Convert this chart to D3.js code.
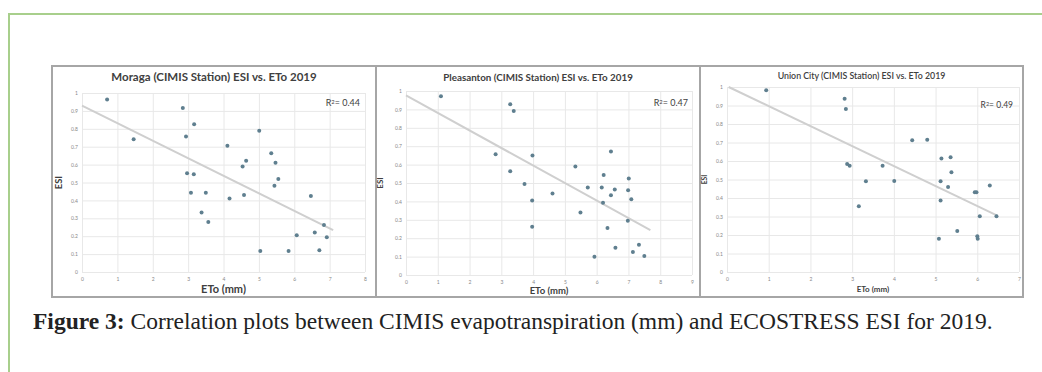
<!DOCTYPE html>
<html>
<head>
<meta charset="utf-8">
<script src="https://cdn.jsdelivr.net/npm/d3@7"></script>
<style>
  body { margin: 0; background: #fff; }
  svg { display: block; }
</style>
</head>
<body>
<div id="figure"></div>
<script>
// values
const MORAGA_ETO = [0.71, 1.46, 2.85, 3.17, 2.94, 2.97, 3.16, 3.08, 3.5, 3.38, 3.57, 4.11, 4.17, 4.54,
                    4.64, 4.58, 5.01, 5.04, 5.35, 5.47, 5.55, 5.44, 5.84, 6.07, 6.47, 6.58, 6.71, 6.84, 6.92];
const MORAGA_ESI = [0.963, 0.742, 0.916, 0.826, 0.757, 0.551, 0.546, 0.443, 0.443, 0.333, 0.279, 0.705, 0.411, 0.589,
                    0.622, 0.43, 0.789, 0.118, 0.664, 0.611, 0.52, 0.482, 0.118, 0.206, 0.424, 0.221, 0.121, 0.262, 0.194];
const MORAGA_FIT = [[0, 0.93], [7.1, 0.234]];

const PLEASANTON_ETO = [1.1, 3.28, 3.39, 2.82, 3.98, 3.28, 3.73, 3.97, 3.97, 4.61, 5.33, 5.49, 5.72, 5.93, 6.16,
                        6.2, 6.22, 6.34, 6.45, 6.45, 6.57, 6.59, 6.99, 7.01, 6.98, 7.09, 7.14, 7.33, 7.5];
const PLEASANTON_ESI = [0.971, 0.928, 0.891, 0.656, 0.649, 0.564, 0.495, 0.405, 0.262, 0.443, 0.59, 0.34, 0.476, 0.099, 0.476,
                        0.392, 0.544, 0.255, 0.671, 0.434, 0.465, 0.148, 0.461, 0.524, 0.295, 0.412, 0.125, 0.165, 0.103];
const PLEASANTON_FIT = [[0, 0.976], [7.69, 0.244]];

const UNION_ETO = [0.94, 2.82, 2.85, 2.88, 2.94, 3.33, 3.16, 3.73, 4.01, 4.44, 4.8, 5.14, 5.36, 5.38,
                   5.12, 5.3, 5.12, 5.08, 5.52, 5.94, 5.98, 6.06, 6.0, 6.01, 6.3, 6.46];
const UNION_ESI = [0.982, 0.937, 0.881, 0.584, 0.575, 0.49, 0.355, 0.575, 0.492, 0.712, 0.715, 0.613, 0.62, 0.539,
                   0.49, 0.459, 0.387, 0.18, 0.222, 0.431, 0.431, 0.301, 0.193, 0.18, 0.468, 0.301];
const UNION_FIT = [[0.04, 1.0], [6.48, 0.305]];

const TITLES = ["Moraga (CIMIS Station) ESI vs. ETo 2019",
                "Pleasanton (CIMIS Station) ESI vs. ETo 2019",
                "Union City (CIMIS Station) ESI vs. ETo 2019"];
const R2_LABELS = ["0.44", "0.47", "0.49"];
const X_MAX = [8, 9, 7];
const Y_TICKS = [0, 0.1, 0.2, 0.3, 0.4, 0.5, 0.6, 0.7, 0.8, 0.9, 1];
const CAPTION_BOLD = "Figure 3:";
const CAPTION = " Correlation plots between CIMIS evapotranspiration (mm) and ECOSTRESS ESI for 2019.";

const DOT_COLOUR = "#5f7f8f";
const FIT_COLOUR = "#cfcfcf";
const GRID_COLOUR = "#e8e8e8";

var W = 1042, H = 372;
var svg = d3.select("#figure").append("svg")
    .attr("width", W)
    .attr("height", H);

// green frame of the page
svg.append("path")
    .attr("d", "M9,372 V14 H1042")
    .attr("fill", "none")
    .attr("stroke", "#a8cf8c")
    .attr("stroke-width", 2);

// outer box of the figure and the two dividers
svg.append("rect")
    .attr("x", 52).attr("y", 66)
    .attr("width", 971).attr("height", 231)
    .attr("fill", "none")
    .attr("stroke", "#a6a6a6")
    .attr("stroke-width", 2);
[376, 700].forEach(function(x) {
  svg.append("line")
      .attr("x1", x).attr("x2", x)
      .attr("y1", 66).attr("y2", 297)
      .attr("stroke", "#a6a6a6")
      .attr("stroke-width", 2);
});

var panels = [
  {eto: MORAGA_ETO, esi: MORAGA_ESI, fit: MORAGA_FIT, box: [52, 376],
   xr: [82, 365], yr: [272, 93], titleY: 81, titleSize: 11.5, titleWeight: "bold",
   labelSize: 11, r2Size: 9, r2X: 360, r2Y: 106, yLabelX: 62, xLabelY: 293},
  {eto: PLEASANTON_ETO, esi: PLEASANTON_ESI, fit: PLEASANTON_FIT, box: [376, 700],
   xr: [406, 692], yr: [275, 91], titleY: 81, titleSize: 9.8, titleWeight: "bold",
   labelSize: 9.5, r2Size: 9, r2X: 688, r2Y: 106, yLabelX: 383, xLabelY: 294},
  {eto: UNION_ETO, esi: UNION_ESI, fit: UNION_FIT, box: [700, 1023],
   xr: [727, 1019], yr: [272, 87], titleY: 79, titleSize: 8.8, titleWeight: "600",
   labelSize: 8, r2Size: 8.5, r2X: 1013, r2Y: 108, yLabelX: 707, xLabelY: 292}
];

panels.forEach(function(p, i) {
  var g = svg.append("g");
  var x = d3.scaleLinear().domain([0, X_MAX[i]]).range(p.xr);
  var y = d3.scaleLinear().domain([0, 1]).range(p.yr);

  // grid
  g.append("g")
    .attr("transform", "translate(0," + p.yr[0] + ")")
    .call(d3.axisBottom(x).ticks(X_MAX[i]).tickSize(-(p.yr[0] - p.yr[1])).tickFormat(d3.format("d")))
    .call(function(a) {
      a.select(".domain").remove();
      a.selectAll("line").attr("stroke", GRID_COLOUR);
      a.selectAll("text").attr("fill", "#888").attr("font-size", 5).attr("dy", "1.1em")
        .attr("font-family", "Lato");
    });
  g.append("g")
    .attr("transform", "translate(" + p.xr[0] + ",0)")
    .call(d3.axisLeft(y).tickValues(Y_TICKS).tickSize(-(p.xr[1] - p.xr[0])).tickFormat(d3.format("")))
    .call(function(a) {
      a.select(".domain").remove();
      a.selectAll("line").attr("stroke", GRID_COLOUR);
      a.selectAll("text").attr("fill", "#888").attr("font-size", 5).attr("x", -4)
        .attr("font-family", "Lato");
    });

  // trend line
  g.append("line")
    .attr("x1", x(p.fit[0][0])).attr("y1", y(p.fit[0][1]))
    .attr("x2", x(p.fit[1][0])).attr("y2", y(p.fit[1][1]))
    .attr("stroke", FIT_COLOUR)
    .attr("stroke-width", 2);

  // dots
  g.append("g")
    .selectAll("circle")
    .data(d3.zip(p.eto, p.esi))
    .enter()
    .append("circle")
      .attr("cx", function(d) { return x(d[0]); })
      .attr("cy", function(d) { return y(d[1]); })
      .attr("r", 2)
      .style("fill", DOT_COLOUR);

  g.append("text")
    .attr("x", (p.box[0] + p.box[1]) / 2).attr("y", p.titleY)
    .attr("text-anchor", "middle")
    .attr("font-family", "Lato")
    .attr("font-weight", p.titleWeight)
    .attr("font-size", p.titleSize)
    .attr("fill", "#404040")
    .text(TITLES[i]);

  var r2 = g.append("text")
    .attr("x", p.r2X).attr("y", p.r2Y)
    .attr("text-anchor", "end")
    .attr("font-family", "Lato")
    .attr("font-size", p.r2Size)
    .attr("fill", "#404040");
  r2.append("tspan").text("R");
  r2.append("tspan").attr("font-size", p.r2Size * 0.65).attr("dy", "-0.4em").text("2");
  r2.append("tspan").attr("dy", "0.26em").text("= " + R2_LABELS[i]);

  g.append("text")
    .attr("x", (p.xr[0] + p.xr[1]) / 2).attr("y", p.xLabelY)
    .attr("text-anchor", "middle")
    .attr("font-family", "Lato")
    .attr("font-weight", "bold")
    .attr("font-size", p.labelSize)
    .attr("fill", "#404040")
    .text("ETo (mm)");

  g.append("text")
    .attr("transform", "translate(" + p.yLabelX + "," + ((p.yr[0] + p.yr[1]) / 2) + ") rotate(-90)")
    .attr("text-anchor", "middle")
    .attr("font-family", "Lato")
    .attr("font-weight", "bold")
    .attr("font-size", p.labelSize * 0.85)
    .attr("fill", "#404040")
    .text("ESI");
});

// caption
var cap = svg.append("text")
    .attr("x", 33).attr("y", 329)
    .attr("font-family", "Liberation Serif")
    .attr("font-size", 23.5)
    .attr("fill", "#222");
cap.append("tspan").attr("font-weight", "bold").text(CAPTION_BOLD);
cap.append("tspan").text(CAPTION);
</script>
</body>
</html>
